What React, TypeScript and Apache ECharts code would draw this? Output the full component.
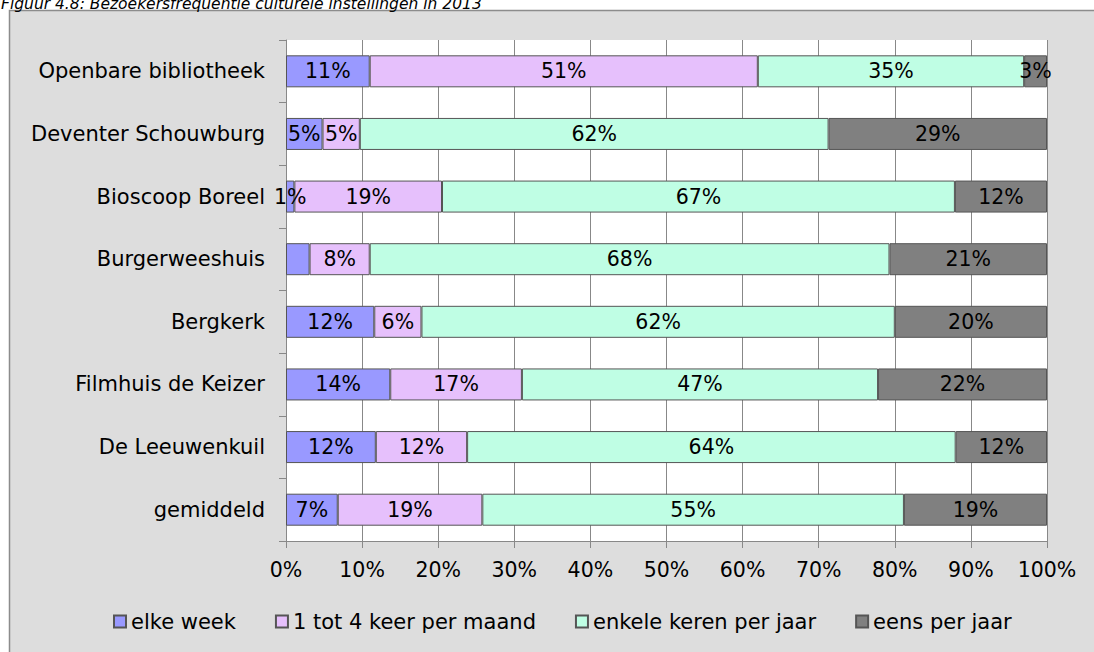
import React, { useEffect, useRef } from 'react';
import * as echarts from 'echarts';

const titleText = 'Figuur 4.8: Bezoekersfrequentie culturele instellingen in 2013';
const categories = [
  'Openbare bibliotheek',
  'Deventer Schouwburg',
  'Bioscoop Boreel',
  'Burgerweeshuis',
  'Bergkerk',
  'Filmhuis de Keizer',
  'De Leeuwenkuil',
  'gemiddeld',
];
const seriesNames = ['elke week', '1 tot 4 keer per maand', 'enkele keren per jaar', 'eens per jaar'];
const elkeWeek = [11, 4.8, 1.1, 3.1, 11.6, 13.7, 11.8, 6.8];
const perMaand = [51, 4.9, 19.4, 7.9, 6.2, 17.3, 12.0, 19.0];
const enkeleKeren = [35, 61.6, 67.4, 68.3, 62.2, 46.8, 64.2, 55.4];
const eensPerJaar = [3, 28.7, 12.1, 20.7, 20.0, 22.2, 12.0, 18.8];
// [series index, category index] of labels that are not shown
const hiddenLabels = [[0, 3]];
const seriesColors = ['#9999ff', '#e6c0fc', '#bffee4', '#808080'];

const FONT = 'DejaVu Sans';

export default function App() {
  const ref = useRef<HTMLDivElement>(null);
  useEffect(() => {
    if (!ref.current) return;
    const chart = echarts.init(ref.current, undefined, { renderer: 'svg' });
    const allValues = [elkeWeek, perMaand, enkeleKeren, eensPerJaar];
    const series = allValues.map((vals, si) => ({
      name: seriesNames[si],
      type: 'bar',
      stack: 'total',
      barWidth: 32,
      itemStyle: { color: seriesColors[si], borderColor: '#555', borderWidth: 1 },
      label: {
        show: true,
        position: 'inside',
        color: '#000',
        fontFamily: FONT,
        fontSize: 20.5,
        formatter: (p: any) => Math.round(p.value) + '%',
      },
      data: vals.map((v, ci) =>
        hiddenLabels.some(([s, c]) => s === si && c === ci) ? { value: v, label: { show: false } } : v
      ),
    }));
    chart.setOption({
      animation: false,
      textStyle: { fontFamily: FONT },
      graphic: [
        {
          type: 'rect',
          z: -100,
          shape: { x: 9.5, y: 10.5, width: 1200, height: 800 },
          style: { fill: '#dddddd', stroke: '#8c8c8c', lineWidth: 1.5 },
        },
        {
          type: 'text',
          x: 1,
          y: 3.5,
          style: {
            text: titleText,
            fill: '#000',
            font: `italic 15.5px "${FONT}"`,
            verticalAlign: 'middle',
            align: 'left',
          },
        },
      ],
      grid: {
        left: 286,
        right: 47,
        top: 40,
        bottom: 111,
        show: true,
        backgroundColor: '#ffffff',
        borderWidth: 0,
      },
      legend: {
        data: seriesNames,
        left: 113,
        top: 611,
        padding: 0,
        itemWidth: 12,
        itemHeight: 12,
        itemGap: 39,
        icon: 'rect',
        textStyle: { color: '#000', fontFamily: FONT, fontSize: 21 },
      },
      xAxis: {
        type: 'value',
        min: 0,
        max: 100,
        interval: 10,
        axisLine: { show: true, lineStyle: { color: '#888', width: 1 } },
        axisTick: { show: true, length: 7, lineStyle: { color: '#888' } },
        axisLabel: { formatter: '{value}%', color: '#000', fontFamily: FONT, fontSize: 20.5, margin: 18 },
        splitLine: { show: true, lineStyle: { color: '#888', width: 1 } },
      },
      yAxis: {
        type: 'category',
        inverse: true,
        data: categories,
        axisLine: { show: true, lineStyle: { color: '#888', width: 1 } },
        axisTick: { show: true, length: 7, lineStyle: { color: '#888' } },
        axisLabel: { color: '#000', fontFamily: FONT, fontSize: 21, margin: 21 },
        splitLine: { show: false },
      },
      series,
    });
    return () => chart.dispose();
  }, []);
  return <div ref={ref} style={{ position: 'absolute', left: 0, top: 0, width: 1094, height: 652 }} />;
}
